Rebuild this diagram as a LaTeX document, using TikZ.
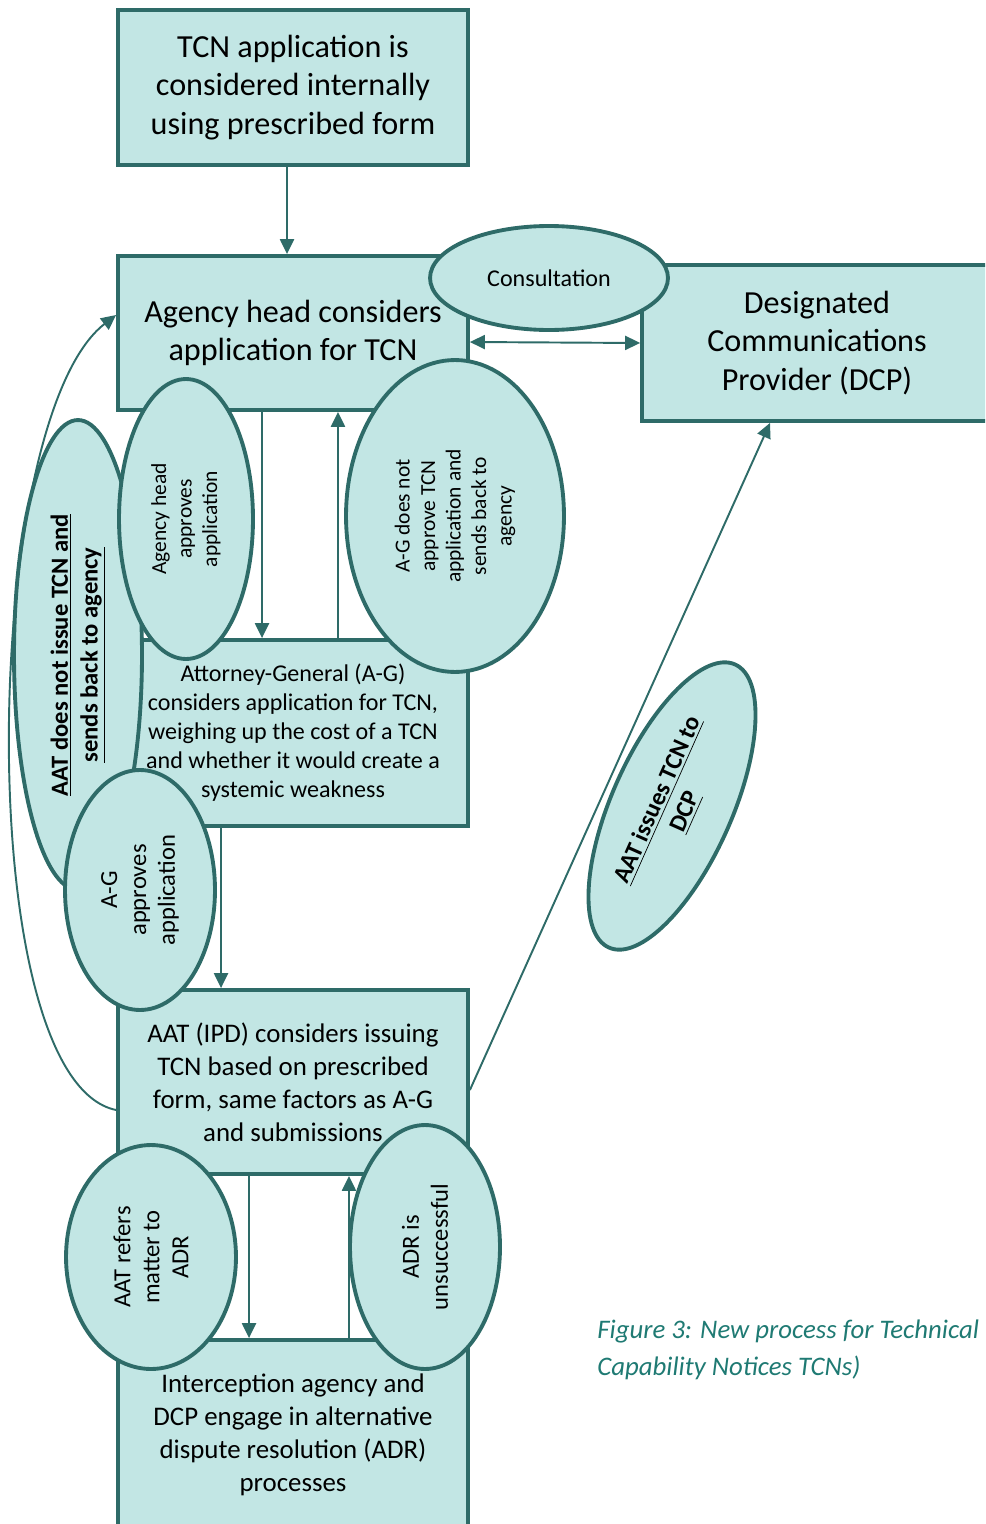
\documentclass[tikz,border=0pt]{standalone}
\usepackage{fontspec}
\setmainfont{Carlito}
\usetikzlibrary{shapes.geometric,arrows.meta}

\definecolor{tealfill}{HTML}{C2E6E4}
\definecolor{tealline}{HTML}{2E6B68}
\definecolor{captext}{HTML}{1F7A73}

\begin{document}
\begin{tikzpicture}[x=0.02cm,y=-0.02cm,
    stepbox/.style={draw=tealline,fill=tealfill,line width=2.2pt,minimum width=7cm,align=center,inner sep=0pt},
    bubble/.style={ellipse,draw=tealline,fill=tealfill,line width=2.2pt,align=center,inner sep=0pt},
    arr/.style={draw=tealline,line width=1.1pt,-{Triangle[length=8.5pt,width=8pt]}},
    bigtext/.style={font=\fontsize{18.3}{22.1}\selectfont},
    midtext/.style={font=\fontsize{15.3}{18.7}\selectfont},
    smalltext/.style={font=\fontsize{13.7}{16.5}\selectfont}]
          \clip (0,0) rectangle (985,1524);

          \node[stepbox,bigtext,minimum height=3.1cm] (form) at (293,87.5)
            {TCN application is\\considered internally\\using prescribed form};
          \node[stepbox,bigtext,minimum height=3.08cm] (agency) at (293,333)
            {Agency head considers\\application for TCN};
          \node[stepbox,bigtext,minimum height=3.12cm] (dcp) at (817,343)
            {Designated\\Communications\\Provider (DCP)};
          \node[stepbox,smalltext,minimum height=3.72cm] (ag) at (293,733)
            {Attorney-General (A-G)\\considers application for TCN,\\weighing up the cost of a TCN\\and whether it would create a\\systemic weakness};
          \node[stepbox,midtext,minimum height=3.68cm] (aat) at (293,1082)
            {AAT (IPD) considers issuing\\TCN based on prescribed\\form, same factors as A-G\\and submissions};
          \node[stepbox,midtext,minimum height=3.8cm] (adr) at (293,1435)
            {Interception agency and\\DCP engage in alternative\\dispute resolution (ADR)\\processes};

          \node[bubble,font=\fontsize{13.7}{16}\selectfont,minimum width=4.76cm,minimum height=2.08cm] (consult) at (549,278) {Consultation};
          \node[bubble,rotate=90,font=\bfseries\fontsize{14}{17}\selectfont,minimum width=9.4cm,minimum height=2.56cm] (aatno) at (78,655)
            {\underline{AAT does not issue TCN and}\\\underline{sends back to agency}};
          \node[bubble,rotate=90,font=\fontsize{12.2}{14.5}\selectfont,minimum width=5.6cm,minimum height=2.68cm] (ahok) at (186,519)
            {Agency head\\approves\\application};
          \node[bubble,rotate=90,font=\fontsize{12.2}{14.5}\selectfont,minimum width=6.24cm,minimum height=4.36cm] (agno) at (455,516)
            {A-G does not\\approve TCN\\application and\\sends back to\\agency};
          \node[bubble,rotate=90,font=\fontsize{14}{16.5}\selectfont,minimum width=4.8cm,minimum height=3cm] (agok) at (140,890)
            {A-G\\approves\\application};
          \node[bubble,rotate=66,font=\bfseries\fontsize{14}{17}\selectfont,minimum width=6.2cm,minimum height=2.4cm] (aatissue) at (672,806)
            {\underline{AAT issues TCN to}\\\underline{DCP}};
          \node[bubble,rotate=90,font=\fontsize{14}{16.5}\selectfont,minimum width=4.48cm,minimum height=3.4cm] (refer) at (151,1257)
            {AAT refers\\matter to\\ADR};
          \node[bubble,rotate=90,font=\fontsize{14}{16.5}\selectfont,minimum width=4.88cm,minimum height=3cm] (fail) at (425,1247)
            {ADR is\\unsuccessful};

          \draw[arr] ([xshift=-0.12cm]form.south) -- ([xshift=-0.12cm]agency.north);
          \draw[arr] ([xshift=-0.62cm]agency.south) -- ([xshift=-0.62cm]ag.north);
          \draw[arr] ([xshift=0.9cm]ag.north) -- ([xshift=0.9cm]agency.south);
          \draw[arr,{Triangle[length=8.5pt,width=8pt]}-{Triangle[length=8.5pt,width=8pt]}] ([yshift=-0.18cm]agency.east) -- (dcp.west);
          \draw[arr] ([xshift=-1.44cm]ag.south) -- ([xshift=-1.44cm]aat.north);
          \draw[arr] ([xshift=-0.88cm]aat.south) -- ([xshift=-0.88cm]adr.north);
          \draw[arr] ([xshift=1.12cm]adr.north) -- ([xshift=1.12cm]aat.south);
          \draw[arr] ([yshift=-0.16cm]aat.east) -- ([xshift=-0.94cm]dcp.south);
          \draw[arr] ([yshift=-0.56cm]aat.west) .. controls (-30,1080) and (-20,420) .. ([yshift=0.36cm]agency.west);

          \node[anchor=north west,inner sep=0pt,align=left,text=captext,font=\itshape\fontsize{15.25}{21}\selectfont] (caption) at (597,1320)
            {Figure 3: New process for Technical\\Capability Notices TCNs)};
        \end{tikzpicture}
\end{document}
